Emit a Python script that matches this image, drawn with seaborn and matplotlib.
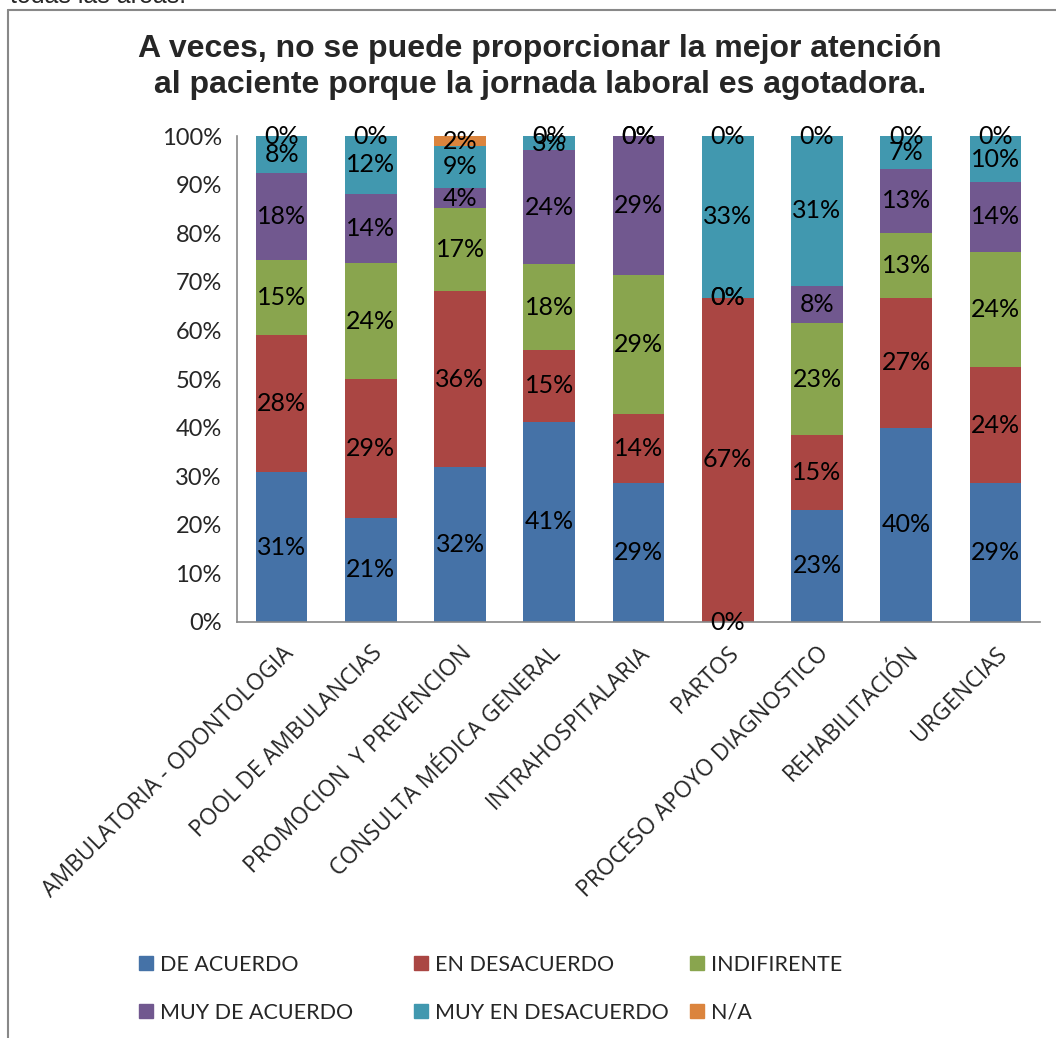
import matplotlib
matplotlib.use("Agg")
import matplotlib.pyplot as plt
import seaborn as sns
import numpy as np
import pandas as pd
from matplotlib.patches import Patch
from matplotlib.lines import Line2D

categories = ["AMBULATORIA - ODONTOLOGIA", "POOL DE AMBULANCIAS", "PROMOCION  Y PREVENCION",
              "CONSULTA MÉDICA GENERAL", "INTRAHOSPITALARIA", "PARTOS",
              "PROCESO APOYO DIAGNOSTICO", "REHABILITACIÓN", "URGENCIAS"]
de_acuerdo = [30.8, 21.4, 31.9, 41.2, 28.6, 0.0, 23.1, 40.0, 28.6]
en_desacuerdo = [28.2, 28.6, 36.2, 14.7, 14.3, 66.7, 15.4, 26.7, 23.8]
indifirente = [15.4, 23.8, 17.0, 17.6, 28.6, 0.0, 23.1, 13.3, 23.8]
muy_de_acuerdo = [17.9, 14.3, 4.3, 23.5, 28.6, 0.0, 7.7, 13.3, 14.3]
muy_en_desacuerdo = [7.7, 11.9, 8.51, 2.9, 0.0, 33.3, 30.8, 6.7, 9.5]
n_a = [0.0, 0.0, 2.1, 0.0, 0.0, 0.0, 0.0, 0.0, 0.0]
series_names = ["DE ACUERDO", "EN DESACUERDO", "INDIFIRENTE", "MUY DE ACUERDO", "MUY EN DESACUERDO", "N/A"]
colors = ["#4572A7", "#AA4643", "#89A54E", "#71588F", "#4198AF", "#DB843D"]
y_ticks = [0, 10, 20, 30, 40, 50, 60, 70, 80, 90, 100]

series = [de_acuerdo, en_desacuerdo, indifirente, muy_de_acuerdo, muy_en_desacuerdo, n_a]
vals = np.array(series)
cum = np.cumsum(vals, axis=0)
tot = cum[-1]
norm = cum / tot * 100
vals_n = vals / tot * 100

sns.set_theme(style="white")
plt.rcParams['font.family'] = ['Lato', 'DejaVu Sans']

fig = plt.figure(figsize=(10.56, 10.38), dpi=100)
ax = fig.add_axes([237/1056, 1-622/1038, (1040-237)/1056, (622-136)/1038])

for i in range(len(series) - 1, -1, -1):
    df = pd.DataFrame({"cat": categories, "v": norm[i]})
    sns.barplot(data=df, x="cat", y="v", color=colors[i], width=0.58, ax=ax,
                saturation=1, linewidth=0, order=categories)

# labels
for i in range(len(series)):
    for j in range(len(categories)):
        bottom = norm[i][j] - vals_n[i][j]
        yc = bottom + vals_n[i][j] / 2
        ax.text(j, yc, f"{series[i][j]:.0f}%", ha="center", va="center", fontsize=18, color="black")

ax.set_ylim(0, 100)
ax.set_xlim(-0.5, len(categories) - 0.5)
ax.set_yticks(y_ticks)
ax.set_yticklabels([f"{t}%" for t in y_ticks], fontsize=17)
ax.set_xticks(range(len(categories)))
ax.set_xticklabels(categories, rotation=45, ha="right", rotation_mode="anchor", fontsize=16.5,
                   family=["Open Sans", "DejaVu Sans"])
ax.tick_params(axis="y", length=0, pad=11)
ax.tick_params(axis="x", length=0, pad=14)
ax.set_xlabel("")
ax.set_ylabel("")
for s in ["top", "right"]:
    ax.spines[s].set_visible(False)
for s in ["left", "bottom"]:
    ax.spines[s].set_color("#888888")
    ax.spines[s].set_linewidth(1.2)

fig.text(540/1056, 1-67/1038,
         "A veces, no se puede proporcionar la mejor atención\nal paciente porque la jornada laboral es agotadora.",
         ha="center", va="center", fontsize=23, fontweight="bold",
         family=["Liberation Sans", "DejaVu Sans"], linespacing=1.25)

fig.text(10/1056, 1-3/1038, "todas las areas.", ha="left", va="baseline", fontsize=18,
         family=["Liberation Sans", "DejaVu Sans"])

# frame
fig.add_artist(Line2D([8/1056, 8/1056], [0, 1-10/1038], transform=fig.transFigure, color="#888888", lw=1.5))
fig.add_artist(Line2D([8/1056, 1], [1-10/1038, 1-10/1038], transform=fig.transFigure, color="#888888", lw=1.5))

# legend: three columns
col_x = [130/1056, 405/1056, 681/1056]
pairs = [(0, 3), (1, 4), (2, 5)]
for cx, (a, b) in zip(col_x, pairs):
    handles = [Patch(color=colors[a], label=series_names[a]), Patch(color=colors[b], label=series_names[b])]
    fig.legend(handles=handles, loc="upper left", bbox_to_anchor=(cx, 1-946/1038),
               frameon=False, fontsize=15.5, handlelength=0.65, handleheight=0.65,
               handletextpad=0.35, labelspacing=1.3, borderaxespad=0)

fig.savefig("out.png", dpi=100)
